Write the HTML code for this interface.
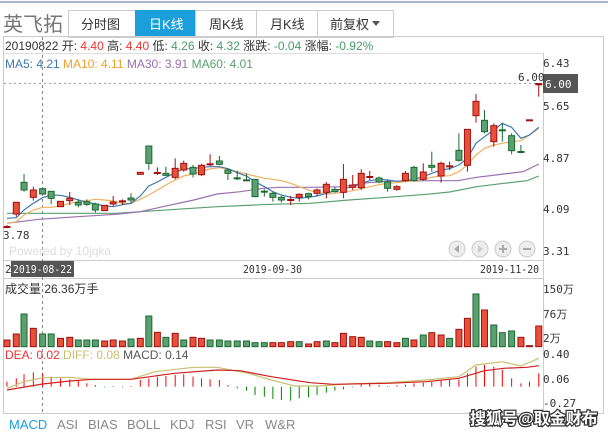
<!DOCTYPE html>
<html><head><meta charset="utf-8"><style>
html,body{margin:0;padding:0;background:#fff;width:608px;height:435px;overflow:hidden;font-family:"Liberation Sans","Noto Sans CJK SC",sans-serif}
svg{position:absolute;left:0;top:0}
</style></head><body>
<svg id="s" width="608" height="435" xmlns="http://www.w3.org/2000/svg" font-family="Liberation Sans, Noto Sans CJK SC, sans-serif">
<rect width="608" height="435" fill="#fff"/>
<line x1="0" y1="2" x2="608" y2="2" stroke="#8aa0bc" stroke-width="1.5"/>
<text x="3" y="31" font-size="20" fill="#777">英飞拓</text>
<rect x="68.5" y="10.5" width="325" height="27" fill="#fff" stroke="#ccc"/>
<rect x="135" y="10" width="60" height="27" fill="#1a9fdc"/>
<line x1="195.5" y1="10" x2="195.5" y2="37" stroke="#ccc"/>
<line x1="256.5" y1="10" x2="256.5" y2="37" stroke="#ccc"/>
<line x1="317.5" y1="10" x2="317.5" y2="37" stroke="#ccc"/>
<g font-size="13" fill="#333">
<text x="81" y="29">分时图</text><text x="149" y="29" fill="#fff">日K线</text>
<text x="209" y="29">周K线</text><text x="270" y="29">月K线</text><text x="330" y="29">前复权</text>
</g>
<path d="M372 21 l8 0 l-4 5z" fill="#555"/>
<rect x="3.5" y="36.5" width="600" height="377" fill="none" stroke="#ccc"/>
<line x1="4" y1="53.5" x2="543" y2="53.5" stroke="#ddd"/>
<line x1="543.5" y1="53" x2="543.5" y2="413" stroke="#ccc"/>
<line x1="4" y1="260.5" x2="543" y2="260.5" stroke="#ccc"/>
<line x1="4" y1="278.5" x2="543" y2="278.5" stroke="#ccc"/>
<g font-size="12">
<text x="5" y="50" fill="#333">20190822 开: <tspan fill="#e33">4.40</tspan> 高: <tspan fill="#e33">4.40</tspan> 低: <tspan fill="#4a9a6a">4.26</tspan> 收: <tspan fill="#4a9a6a">4.32</tspan> 涨跌: <tspan fill="#4a9a6a">-0.04</tspan> 涨幅: <tspan fill="#4a9a6a">-0.92%</tspan></text>
<text x="5" y="68" fill="#3f78b0">MA5: 4.21 <tspan fill="#f0a030">MA10: 4.11</tspan> <tspan fill="#9a70b0">MA30: 3.91</tspan> <tspan fill="#5aa070">MA60: 4.01</tspan></text>
</g>
<line x1="4" y1="83.5" x2="540" y2="83.5" stroke="#999" stroke-dasharray="2,3"/>
<line x1="42.5" y1="37" x2="42.5" y2="413" stroke="#888" stroke-dasharray="3,3"/>
<rect x="543" y="74" width="35" height="19" fill="#555"/>
<g font-family="DejaVu Sans Mono, Liberation Mono, monospace" font-size="11" fill="#333">
<text x="518" y="81">6.00</text>
<text x="545" y="88" fill="#fff">6.00</text>
<text x="543" y="67">6.43</text><text x="543" y="110">5.65</text><text x="543" y="162">4.87</text><text x="543" y="213">4.09</text><text x="543" y="255">3.31</text>
<text x="3" y="239">3.78</text>
<text x="5" y="273">2</text>
<rect x="11" y="261" width="63" height="16" fill="#555"/>
<text x="13" y="273" fill="#fff" textLength="59" lengthAdjust="spacingAndGlyphs">2019-08-22</text>
<text x="243" y="273" textLength="59" lengthAdjust="spacingAndGlyphs">2019-09-30</text>
<text x="480" y="273" textLength="59" lengthAdjust="spacingAndGlyphs">2019-11-20</text>
<text x="543" y="293">150万</text><text x="543" y="318">76万</text><text x="543" y="342">2万</text>
<text x="543" y="358">0.40</text><text x="543" y="383">0.06</text><text x="543" y="407">-0.27</text>
</g>
<text x="9" y="255" font-size="12" fill="#ddd">Powered by 10jqka</text>
<g fill="#eee" stroke="#ccc">
<circle cx="457" cy="249" r="8"/><circle cx="480" cy="249" r="8"/><circle cx="503" cy="249" r="8"/><circle cx="527" cy="249" r="8"/></g>
<g fill="#aaa"><path d="M459 245 l-5 4 l5 4z"/><path d="M478 245 l5 4 l-5 4z" fill="#ccc"/><rect x="499" y="248" width="8" height="2"/><rect x="502" y="245" width="2" height="8"/><rect x="523" y="248" width="8" height="2"/></g>
<text x="5" y="293" font-size="12" fill="#333">成交量 26.36万手</text>
<text x="5" y="359" font-size="12" fill="#e33">DEA: 0.02 <tspan fill="#c8c070">DIFF: 0.08</tspan> <tspan fill="#555">MACD: 0.14</tspan></text>
<g font-size="13" fill="#888"><text x="9" y="429" fill="#1a9fdc">MACD</text><text x="57" y="429">ASI</text><text x="88" y="429">BIAS</text><text x="127" y="429">BOLL</text><text x="170" y="429">KDJ</text><text x="205" y="429">RSI</text><text x="236" y="429">VR</text><text x="265" y="429">W&amp;R</text></g>
<text x="470" y="424" font-size="16" fill="#fff" stroke="#333" stroke-width="2.5" paint-order="stroke" font-weight="bold">搜狐号@取金财布</text>
<g id="g"></g>
</svg>
<script>
const X=v=>v/2.58, Y2=v=>90+v/3, Y3=v=>280+v/3;
const xs=[18,42,62,86,110,132,156,180,202,224,246,270,292,316,338,362,384,406,428,452,474,498,520,542,566,588,612,636,658,682,704,726,750,772,796,818,842,864,886,910,932,954,978,1000,1024,1046,1068,1092,1114,1138,1160,1184,1206,1228,1250,1274,1296,1320,1344,1366,1390];
const c=[[408,412,405,415,'r'],[337,372,337,380,'r'],[277,300,252,305,'g'],[300,322,290,332,'r'],[296,312,296,312,'g'],[304,325,304,342,'g'],[334,350,334,350,'r'],[325,332,306,345,'r'],[337,345,328,352,'g'],[335,343,328,348,'g'],[342,360,338,368,'g'],[346,362,346,362,'r'],[336,342,318,348,'r'],[331,336,328,345,'r'],[324,330,310,340,'g'],[247,253,247,253,'r'],[168,220,168,240,'g'],[246,250,232,255,'r'],[250,256,230,258,'g'],[235,262,205,268,'r'],[220,240,212,245,'r'],[232,252,225,262,'g'],[226,254,222,258,'r'],[220,225,193,228,'r'],[213,223,198,226,'g'],[240,250,235,270,'g'],[262,265,242,270,'g'],[268,272,250,272,'g'],[268,320,268,320,'g'],[302,306,298,320,'g'],[310,322,305,335,'g'],[322,330,318,338,'g'],[327,331,318,345,'r'],[313,322,310,335,'r'],[311,320,308,328,'g'],[300,310,295,318,'r'],[283,307,276,325,'r'],[298,305,292,308,'g'],[268,307,222,325,'r'],[285,292,255,300,'r'],[250,293,238,300,'r'],[258,262,243,270,'r'],[264,276,260,280,'g'],[276,295,270,305,'g'],[290,298,285,302,'r'],[250,272,243,275,'r'],[232,272,228,275,'g'],[246,268,220,272,'r'],[226,232,185,245,'g'],[220,258,215,278,'r'],[226,230,215,240,'r'],[181,211,130,215,'g'],[118,226,118,245,'r'],[34,77,12,98,'r'],[91,125,60,130,'g'],[107,155,100,170,'r'],[118,121,100,155,'g'],[137,182,130,193,'g'],[183,187,165,190,'g'],[88,91,88,91,'r'],[-20,-18,-20,20,'r']];
const vt=[180,162,102,145,162,162,175,172,180,180,180,183,180,183,177,175,108,157,172,160,180,172,175,180,180,183,183,183,188,188,188,185,185,192,185,183,188,160,170,172,183,185,185,188,175,180,165,158,165,175,148,115,42,90,135,158,153,172,197,138];
const vc='rrgrggrrgggrrrgrgrgrgrrgggggggrrgrrgrrrrggrrgrgrrgrrgrgggrr'; 
const mb=[305,295,283,277,280,290,295,298,302,310,315,322,318,322,318,300,295,290,288,285,283,290,295,298,300,315,325,332,345,350,357,360,362,355,352,345,338,332,328,322,310,312,315,318,316,314,310,308,306,300,300,298,280,260,255,260,270,295,310,305,280];
let h='';
const red='#e8503a',redS='#a01010',grn='#5aa070',grnS='#1a6a30';
const L=(pts,col,Y)=>'<polyline fill="none" stroke="'+col+'" stroke-width="1.2" points="'+pts.map(p=>X(p[0]).toFixed(1)+','+Y(p[1]).toFixed(1)).join(' ')+'"/>';
h+=L([[18,370],[300,370],[400,362],[560,350],[700,343],[800,340],[900,330],[1000,322],[1100,313],[1160,306],[1230,290],[1300,280],[1360,272],[1390,258]],'#5aa070',Y2);
h+=L([[18,400],[100,388],[200,380],[300,373],[362,365],[420,350],[500,330],[560,312],[620,305],[680,295],[720,292],[800,292],[880,290],[950,278],[1000,274],[1100,272],[1180,272],[1230,262],[1300,252],[1350,245],[1390,222]],'#9a70b0',Y2);
const ma10=[400,395,375,360,352,352,348,340,335,332,328,330,333,340,340,328,315,300,285,270,258,252,244,237,233,237,245,252,258,265,268,272,280,290,300,308,312,310,307,302,296,290,284,280,278,275,272,268,262,258,257,245,225,195,175,165,160,155,152,135,115];
const ma5=[385,383,360,340,323,315,316,322,330,336,342,348,350,344,340,318,288,276,262,248,236,236,232,230,230,236,248,258,275,290,305,315,322,325,322,318,310,302,296,290,280,272,268,270,274,272,268,260,250,240,236,225,205,160,140,120,100,112,145,135,112];
h+=L(xs.map((x,i)=>[x,ma10[i]]),'#f0b060',Y2);
h+=L(xs.map((x,i)=>[x,ma5[i]]),'#3f78b0',Y2);
c.forEach((k,i)=>{const x=X(xs[i]);const r=k[4]=='r';const f=r?red:grn,s=r?redS:grnS;
 h+='<line x1="'+x+'" x2="'+x+'" y1="'+Y2(k[2])+'" y2="'+Y2(k[3])+'" stroke="'+s+'"/>';
 let t=Y2(k[0]),b=Y2(k[1]);if(b-t<2){h+='<rect x="'+(x-3.5)+'" y="'+t+'" width="7" height="2" fill="'+s+'"/>';}
 else h+='<rect x="'+(x-3)+'" y="'+t+'" width="6" height="'+(b-t)+'" fill="'+f+'" stroke="'+s+'" stroke-width="1"/>';});
h+='<line x1="'+(X(1390)-3)+'" x2="'+(X(1390)+3)+'" y1="84" y2="84" stroke="'+redS+'" stroke-width="2"/>';
const bot=Y3(200);
xs.forEach((x0,i)=>{const j=Math.round(i*(vt.length-1)/(xs.length-1));const t=Y3(vt[j]);const r=vc[j]!='g';const x=X(x0);
 h+='<rect x="'+(x-3)+'" y="'+t+'" width="6" height="'+Math.max(1,bot-t)+'" fill="'+(r?red:grn)+'" stroke="'+(r?redS:grnS)+'"/>';});
const z=Y3(320);
xs.forEach((x0,i)=>{const x=X(x0);const y=Y3(mb[i]);h+='<line x1="'+x+'" x2="'+x+'" y1="'+z+'" y2="'+y+'" stroke="'+(mb[i]<320?'#f00':'#080')+'"/>';});
h+=L([[18,325],[62,305],[110,293],[180,292],[240,298],[338,298],[400,275],[500,262],[560,262],[640,280],[700,300],[760,318],[820,318],[900,312],[1000,308],[1100,300],[1184,290],[1228,255],[1296,245],[1344,258],[1390,235]],'#c8c070',Y3);
h+=L([[18,330],[110,312],[180,303],[240,298],[338,298],[450,280],[560,270],[620,272],[700,290],[800,308],[860,313],[1000,310],[1100,305],[1184,295],[1250,272],[1300,265],[1360,262],[1390,257]],'#d02020',Y3);
document.getElementById('g').innerHTML=h;
</script>
</body></html>
